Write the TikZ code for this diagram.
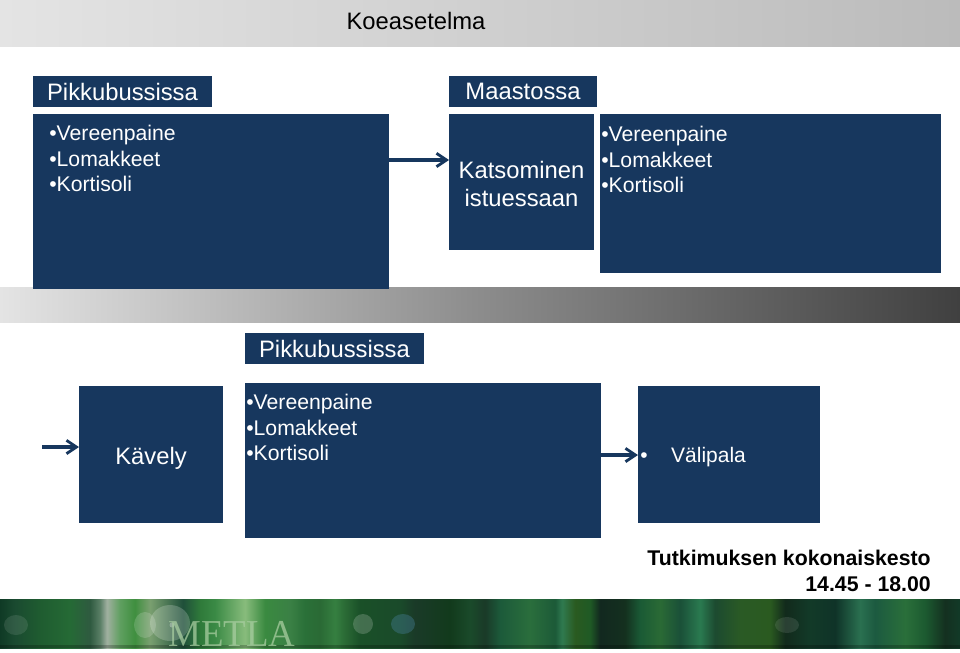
\documentclass[tikz,border=0pt]{standalone}
\usepackage{fontspec}
\setmainfont{Liberation Sans}
\newfontfamily\serifmetla{Liberation Serif}
\usetikzlibrary{arrows.meta}
\definecolor{boxblue}{HTML}{17375E}
\definecolor{metlacol}{HTML}{A8CDA0}
\definecolor{ta}{HTML}{E4E4E4}\definecolor{tb}{HTML}{BBBBBB}
\definecolor{mc}{HTML}{8C8C8C}\definecolor{md}{HTML}{404040}
\pgfdeclarehorizontalshading{topband}{100bp}{color(0bp)=(ta);color(25bp)=(ta);color(75bp)=(tb);color(100bp)=(tb)}
\pgfdeclarehorizontalshading{midband}{100bp}{color(0bp)=(ta);color(25bp)=(ta);color(50bp)=(mc);color(75bp)=(md);color(100bp)=(md)}
\definecolor{za}{HTML}{0F3A25}\definecolor{zb}{HTML}{1A4A30}\definecolor{zc}{HTML}{1F5C30}\definecolor{zd}{HTML}{256A35}
\definecolor{ze}{HTML}{2F5A40}\definecolor{zf}{HTML}{5A7F66}\definecolor{zg}{HTML}{A0B0A0}\definecolor{zh}{HTML}{5F9F60}
\definecolor{zi}{HTML}{3F8F3F}\definecolor{zj}{HTML}{7AA070}\definecolor{zk}{HTML}{1F4F3A}\definecolor{zl}{HTML}{2F7A3A}
\definecolor{zm}{HTML}{3A8A45}\definecolor{zn}{HTML}{88BC7C}\definecolor{zo}{HTML}{3A8A40}\definecolor{zp}{HTML}{3A8045}
\definecolor{zq}{HTML}{2A7038}\definecolor{zr}{HTML}{2A6A35}\definecolor{zs}{HTML}{357F40}\definecolor{zt}{HTML}{1A5028}
\definecolor{zu}{HTML}{1A4A2A}\definecolor{zv}{HTML}{1A3A28}\definecolor{zw}{HTML}{123A1C}\definecolor{zx}{HTML}{1C5A3A}
\definecolor{zy}{HTML}{2A6E3C}\definecolor{zz}{HTML}{1C5A38}\definecolor{ya}{HTML}{2F7A50}\definecolor{yb}{HTML}{2A5A20}
\definecolor{yc}{HTML}{1F5A25}\definecolor{yd}{HTML}{12281F}\definecolor{ye}{HTML}{14301F}\definecolor{yf}{HTML}{1A5A35}
\definecolor{yg}{HTML}{1A5038}\definecolor{yh}{HTML}{2A7A50}\definecolor{yi}{HTML}{1C4A30}\definecolor{yj}{HTML}{2A5A25}
\definecolor{yk}{HTML}{122A1C}\definecolor{yl}{HTML}{123A28}\definecolor{ym}{HTML}{0F3328}\definecolor{yn}{HTML}{2A7050}
\definecolor{yo}{HTML}{1C5A40}\definecolor{yp}{HTML}{2A6F3A}\definecolor{yq}{HTML}{1C5A30}\definecolor{yr}{HTML}{143020}
\pgfdeclarehorizontalshading{greenband}{100bp}{color(0bp)=(za);color(25bp)=(za);color(25.78bp)=(zb);color(27.08bp)=(zc);
color(28.65bp)=(zd);color(29.69bp)=(ze);color(30.21bp)=(zf);color(30.57bp)=(zg);color(31.25bp)=(zh);color(32.03bp)=(zi);
color(32.81bp)=(zj);color(34.53bp)=(zk);color(35.42bp)=(zl);color(36.2bp)=(zm);color(37.76bp)=(zn);color(38.8bp)=(zo);
color(40.1bp)=(zp);color(40.89bp)=(zq);color(41.67bp)=(zr);color(42.45bp)=(zs);color(42.97bp)=(zr);color(43.75bp)=(zt);
color(45.83bp)=(zu);color(46.61bp)=(zv);color(48.44bp)=(zw);color(49.48bp)=(zu);color(50.26bp)=(zv);color(51.04bp)=(zx);
color(52.6bp)=(zy);color(53.91bp)=(zz);color(54.27bp)=(ya);color(54.95bp)=(yb);color(55.73bp)=(yc);color(56.25bp)=(yd);
color(57.55bp)=(ye);color(58.33bp)=(yf);color(59.38bp)=(zr);color(60.42bp)=(yg);color(61.46bp)=(yh);color(62.24bp)=(yi);
color(63.54bp)=(yj);color(65.1bp)=(yb);color(65.89bp)=(yk);color(67.19bp)=(yl);color(68.49bp)=(ym);color(69.79bp)=(yn);
color(70.57bp)=(yo);color(72.14bp)=(yp);color(73.18bp)=(yq);color(74.22bp)=(yr);color(75bp)=(yl);color(100bp)=(yl)}
\tikzset{
  x=0.75pt,y=-0.75pt,
  bluebox/.style={fill=boxblue,draw=none,inner sep=0pt,outer sep=0pt,anchor=north west,text=white,align=center},
  labelfont/.style={font=\fontsize{17.85}{21.6}\selectfont},
  plaintext/.style={text=white,inner sep=0pt,align=center,labelfont},
  listtext/.style={text=white,anchor=north west,inner sep=0pt,align=left,font=\fontsize{15.9}{19.2}\selectfont},
  flow/.style={draw=boxblue,line width=2.4pt,-{Straight Barb[length=7.5pt,width=10pt,line width=2.1pt]}},
  boldtext/.style={anchor=east,inner sep=0pt,font=\fontsize{15.95}{19}\selectfont\bfseries},
  flare/.style={fill=white,draw=none}
}
\begin{document}
\begin{tikzpicture}
\useasboundingbox (0,0) rectangle (960,653);
\fill[white] (0,0) rectangle (960,653);
% bands
\shade[shading=topband] (0,0) rectangle (960,46);
\shade[shading=midband] (0,287) rectangle (960,322);
\shade[shading=greenband] (0,599) rectangle (960,648);
\fill[black,fill opacity=.22] (0,645) rectangle (960,648);
\fill[flare,fill opacity=.16] (145,625) ellipse (11 and 13);
\fill[flare,fill opacity=.2] (170,623) ellipse (20 and 18);
\fill[flare,fill opacity=.3] (172,625) circle (2.5);
\fill[flare,fill opacity=.1] (16,625) ellipse (12 and 10);
\fill[flare,fill opacity=.18] (363,624) ellipse (10 and 10);
\fill[cyan!55!black,fill opacity=.4] (403,624) ellipse (12 and 10);
\fill[flare,fill opacity=.1] (787,625) ellipse (12 and 8);
\node[anchor=base west,inner sep=0pt,text=metlacol,text opacity=.75,xscale=.97,font=\fontsize{28.5}{32}\selectfont\serifmetla] (metla) at (168,646.5) {METLA};
% title
\node[inner sep=0pt,labelfont] (title) at (416,21) {Koeasetelma};
% top row
\node[bluebox,labelfont,minimum width=179*0.75pt,minimum height=31*0.75pt] (lab1) at (33,76) {\raisebox{-1.5pt}{Pikkubussissa}};
\node[bluebox,minimum width=356*0.75pt,minimum height=175*0.75pt] (box1) at (33,114) {};
\node[listtext] (list1) at (49,125) {•Vereenpaine\\•Lomakkeet\\•Kortisoli};
\node[bluebox,labelfont,minimum width=148*0.75pt,minimum height=31*0.75pt] (lab2) at (449,76) {\raisebox{-1.5pt}{Maastossa}};
\node[bluebox,minimum width=145*0.75pt,minimum height=136*0.75pt] (katso) at (449,114) {};
\node[plaintext] (katsotext) at (521.5,184) {Katsominen\\istuessaan};
\node[bluebox,minimum width=341*0.75pt,minimum height=159*0.75pt] (box2) at (600,114) {};
\node[listtext] (list2) at (601,126) {•Vereenpaine\\•Lomakkeet\\•Kortisoli};
% bottom row
\node[bluebox,labelfont,minimum width=179*0.75pt,minimum height=31*0.75pt] (lab3) at (245,333) {\raisebox{-1.5pt}{Pikkubussissa}};
\node[bluebox,minimum width=144*0.75pt,minimum height=137*0.75pt] (kavely) at (79,386) {};
\node[plaintext] (kavelytext) at (151,458) {Kävely};
\node[bluebox,minimum width=356*0.75pt,minimum height=155*0.75pt] (box3) at (245,383) {};
\node[listtext] (list3) at (246,394) {•Vereenpaine\\•Lomakkeet\\•Kortisoli};
\node[bluebox,minimum width=182*0.75pt,minimum height=137*0.75pt] (vali) at (638,386) {};
\node[text=white,inner sep=0pt,anchor=base west,font=\fontsize{15.75}{19}\selectfont] (valitext) at (640,462.5) {•\hspace{17.7pt}Välipala};
% connectors
\coordinate (ya) at (0,160);
\coordinate (yb) at (42,447);
\coordinate (yc) at (0,455);
\draw[flow] (box1.east |- ya) -- (katso.west |- ya);
\draw[flow] (yb) -- (kavely.west |- yb);
\draw[flow] (box3.east |- yc) -- (vali.west |- yc);
% duration
\node[boldtext] (dur1) at (931,558) {Tutkimuksen kokonaiskesto};
\node[boldtext] (dur2) at (931,584) {14.45 - 18.00};
\end{tikzpicture}
\end{document}
